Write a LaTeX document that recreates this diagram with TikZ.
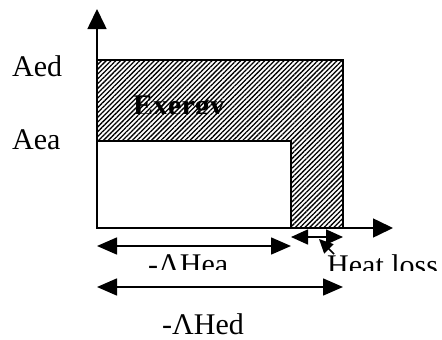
\documentclass[tikz,border=0pt]{standalone}
\usepackage{fontspec}
\setmainfont{Liberation Serif}
\usetikzlibrary{arrows.meta, patterns.meta}

\tikzset{
  axisline/.style={line width=1.6pt, -{Triangle[length=20pt,width=19pt]}},
  dimline/.style={line width=1.6pt, {Triangle[length=20pt,width=17pt]}-{Triangle[length=20pt,width=17pt]}},
  smalldim/.style={line width=1.6pt, {Triangle[length=17pt,width=15pt]}-{Triangle[length=17pt,width=15pt]}},
  txt/.style={font=\fontsize{30}{36}\selectfont, inner sep=0pt, anchor=base west},
  hatched/.style={pattern={Lines[angle=45,distance=3.4pt,line width=1.3pt]}},
}

\begin{document}
\begin{tikzpicture}[x=1pt,y=-1pt]
  \useasboundingbox (0,0) rectangle (442,340);
  % Reference points
  \coordinate (O) at (97,228);
  \coordinate (ytop) at (97,9);
  \coordinate (xend) at (393,228);
  \coordinate (Aed) at (343,60);
  \coordinate (Aea) at (291,141);
  % Exergy region and enthalpy box
  \draw[hatched, line width=2pt] (97,60) rectangle (Aed |- O);
  \draw[fill=white, line width=2pt] (97,141) rectangle (Aea |- O);
  % Axes
  \draw[axisline] (O) -- (ytop);
  \draw[axisline] (O) -- (xend);
  % Dimension arrows
  \coordinate (hea0) at (97,246);
  \coordinate (hea1) at (Aea |- hea0);
  \coordinate (hl0) at (291,237);
  \coordinate (hl1) at (Aed |- hl0);
  \coordinate (hed0) at (97,287);
  \coordinate (hed1) at (Aed |- hed0);
  \draw[dimline] (hea0) -- (hea1);
  \draw[smalldim] (hl0) -- (hl1);
  \draw[dimline] (hed0) -- (hed1);
  % Labels
  \node[txt] (aedlabel) at (12,76) {Aed};
  \node[txt] (aealabel) at (12,149) {Aea};
  \node[txt] (hedlabel) at (162,334) {-ΛHed};
  \begin{scope}
    \clip (120,85) rectangle (240,113);
    \node[txt, font=\fontsize{30}{36}\selectfont\bfseries] (exergy) at (133,115) {Exergy};
  \end{scope}
  \begin{scope}
    \clip (140,250) rectangle (240,269);
    \node[txt] (healabel) at (148,274) {-ΛHea};
  \end{scope}
  \begin{scope}
    \clip (320,250) rectangle (442,270);
    \node[txt] (heatloss) at (327,275) {Heat loss};
  \end{scope}
  % Pointer to heat loss
  \coordinate (ptail) at (334,254);
  \coordinate (ptip) at (319,239);
  \draw[line width=1.6pt, -{Triangle[length=14pt,width=13pt]}] (ptail) -- (ptip);
\end{tikzpicture}
\end{document}
